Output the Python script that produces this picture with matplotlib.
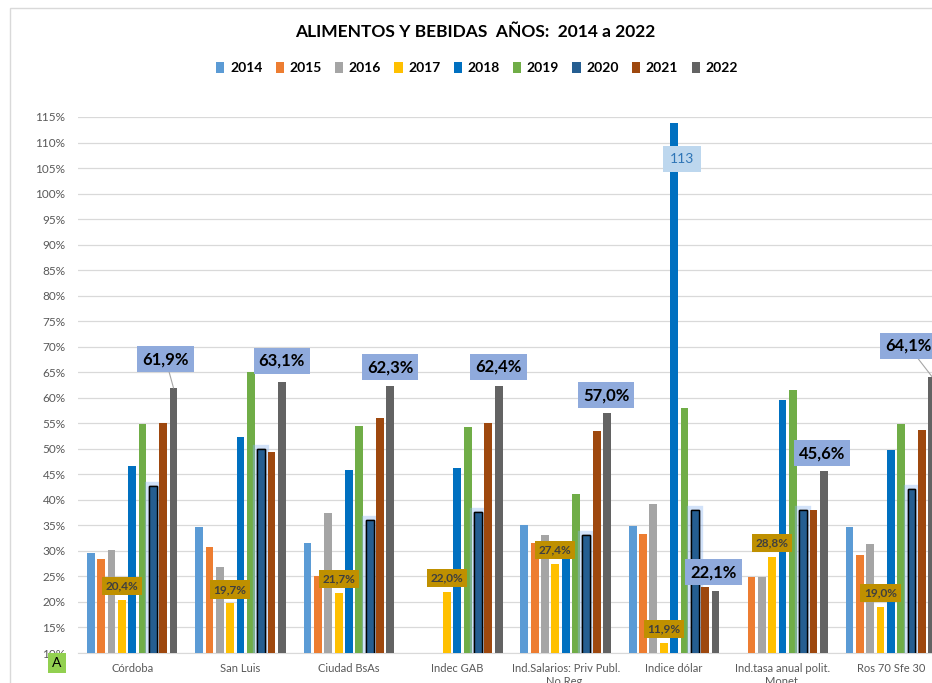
import numpy as np
import matplotlib
matplotlib.use("Agg")
import matplotlib.pyplot as plt
import matplotlib.patheffects as pe
from matplotlib.patches import Rectangle, Patch
import math

plt.rcParams['font.family'] = ['Lato', 'DejaVu Sans']

categories = ["Córdoba", "San Luis", "Ciudad BsAs", "Indec GAB",
              "Ind.Salarios: Priv Publ.\nNo Reg.", "Indice dólar",
              "Ind.tasa anual polit.\nMonet.", "Ros 70 Sfe 30"]
years = ["2014", "2015", "2016", "2017", "2018", "2019", "2020", "2021", "2022"]
nan = np.nan
v2014 = [29.6, 34.7, 31.5, nan, 35.1, 34.9, nan, 34.6]
v2015 = [28.4, 30.8, 25.1, nan, 31.5, 33.3, 24.9, 29.1]
v2016 = [30.1, 26.9, 37.4, nan, 33.1, 39.2, 24.8, 31.4]
v2017 = [20.4, 19.7, 21.7, 22.0, 27.4, 11.9, 28.8, 19.0]
v2018 = [46.7, 52.3, 45.9, 46.2, 29.5, 113.8, 59.5, 49.8]
v2019 = [54.8, 65.0, 54.4, 54.3, 41.1, 58.0, 61.5, 54.8]
v2020 = [42.7, 49.9, 36.1, 37.7, 33.2, 38.1, 38.1, 42.1]
v2021 = [55.1, 49.4, 56.1, 55.1, 53.5, 23.0, 38.0, 53.6]
v2022 = [61.9, 63.1, 62.3, 62.4, 57.0, 22.1, 45.6, 64.1]
series = [v2014, v2015, v2016, v2017, v2018, v2019, v2020, v2021, v2022]
colors = ["#5b9bd5", "#ed7d31", "#a5a5a5", "#ffc000", "#0070c0",
          "#70ad47", "#255e91", "#9e480e", "#636363"]
yticks = list(range(10, 120, 5))

# label placement offsets for the 2022 labels (pixels)
big_off = [(-8, 29), (0, 21), (0, 19), (0, 19), (-1, 18), (-2, 19), (-2, 18), (-24, 31)]
big_leader = [True, False, False, False, False, False, False, True]

W, H = 932, 683
fig = plt.figure(figsize=(W / 100, H / 100), dpi=100)
fig.patch.set_facecolor("white")

# chart frame
fig.add_artist(Rectangle((10 / W, -0.1), 1.2, 1 - 8 / H + 0.1, transform=fig.transFigure,
                         fill=False, edgecolor="#d9d9d9", lw=1.0))

ax = fig.add_axes([78 / W, 1 - 653 / H, 1 - 78 / W, (653 - 117) / H])
x = np.arange(len(categories))
pitch = 0.0954
width = 0.072
for i, (vals, c) in enumerate(zip(series, colors)):
    xs = x + (i - 4) * pitch
    if years[i] == "2020":
        bars = ax.bar(xs, vals, width, color=c, edgecolor="black", linewidth=1.0, zorder=3)
        for b in bars:
            b.set_path_effects([pe.withStroke(linewidth=6, foreground="#8fb8f0", alpha=0.4),
                                pe.Normal()])
    else:
        ax.bar(xs, vals, width, color=c, zorder=3)

ax.set_ylim(10, 115)
ax.set_xlim(-0.5, 7.38)
ax.set_yticks(yticks)
ax.set_yticklabels([f"{t}%" for t in yticks])
ax.yaxis.grid(True, color="#d9d9d9", lw=0.9, zorder=0)
ax.set_axisbelow(True)
for s in ["top", "right", "left"]:
    ax.spines[s].set_visible(False)
ax.spines["bottom"].set_color("#d9d9d9")
ax.tick_params(axis="y", length=0, pad=9, labelsize=8.5, labelcolor="#595959")
ax.set_xticks(x)
ax.set_xticklabels(categories)
ax.tick_params(axis="x", length=0, pad=7, labelsize=8, labelcolor="#595959")

# 2017 labels
for xi, v in zip(x + (3 - 4) * pitch, v2017):
    ax.annotate(f"{v:.1f}".replace(".", ",") + "%", (xi, v), xytext=(0, 14),
                textcoords="offset pixels", ha="center", va="center",
                fontsize=8.5, fontweight="bold", color="#3f3f3f", zorder=6,
                bbox=dict(boxstyle="square,pad=0.3", fc="#bf9000", ec="none"))

# 2022 labels
for xi, v, (dx, dy), lead in zip(x + 4 * pitch, v2022, big_off, big_leader):
    kw = {}
    if lead:
        kw["arrowprops"] = dict(arrowstyle="-", color="#a6a6a6", lw=0.8,
                                shrinkA=0, shrinkB=0)
    ax.annotate(f"{v:.1f}".replace(".", ",") + "%", (xi, v), xytext=(dx, dy),
                textcoords="offset pixels", ha="center", va="center",
                fontsize=12, fontweight="bold", color="black", zorder=7,
                annotation_clip=False,
                bbox=dict(boxstyle="square,pad=0.3", fc="#8faadc", ec="none"), **kw)

# 2018 "113" label on Indice dólar
di = 5
ax.annotate(f"{math.floor(v2018[di])}", (x[di], v2018[di]), xytext=(8, -36),
            textcoords="offset pixels", ha="center", va="center", fontsize=10,
            color="#2e75b6", zorder=7,
            bbox=dict(boxstyle="square,pad=0.5", fc="#bdd7ee", ec="none"))

fig.text(475 / W, 1 - 32 / H, "ALIMENTOS Y BEBIDAS  AÑOS:  2014 a 2022",
         ha="center", va="center", fontsize=12.5, fontweight="bold", color="black")

handles = [Patch(facecolor=c, edgecolor="none") for c in colors]
fig.legend(handles, years, loc="center", bbox_to_anchor=(477 / W, 1 - 68 / H), ncol=9,
           frameon=False, handlelength=0.6, handleheight=0.9, handletextpad=0.4,
           columnspacing=0.95, prop=dict(weight="bold", size=10))

fig.text(57 / W, 1 - 663 / H, "A", ha="center", va="center", fontsize=10,
         color="black",
         bbox=dict(boxstyle="square,pad=0.3", fc="#92d050", ec="none"))

fig.savefig("out.png", dpi=100)
